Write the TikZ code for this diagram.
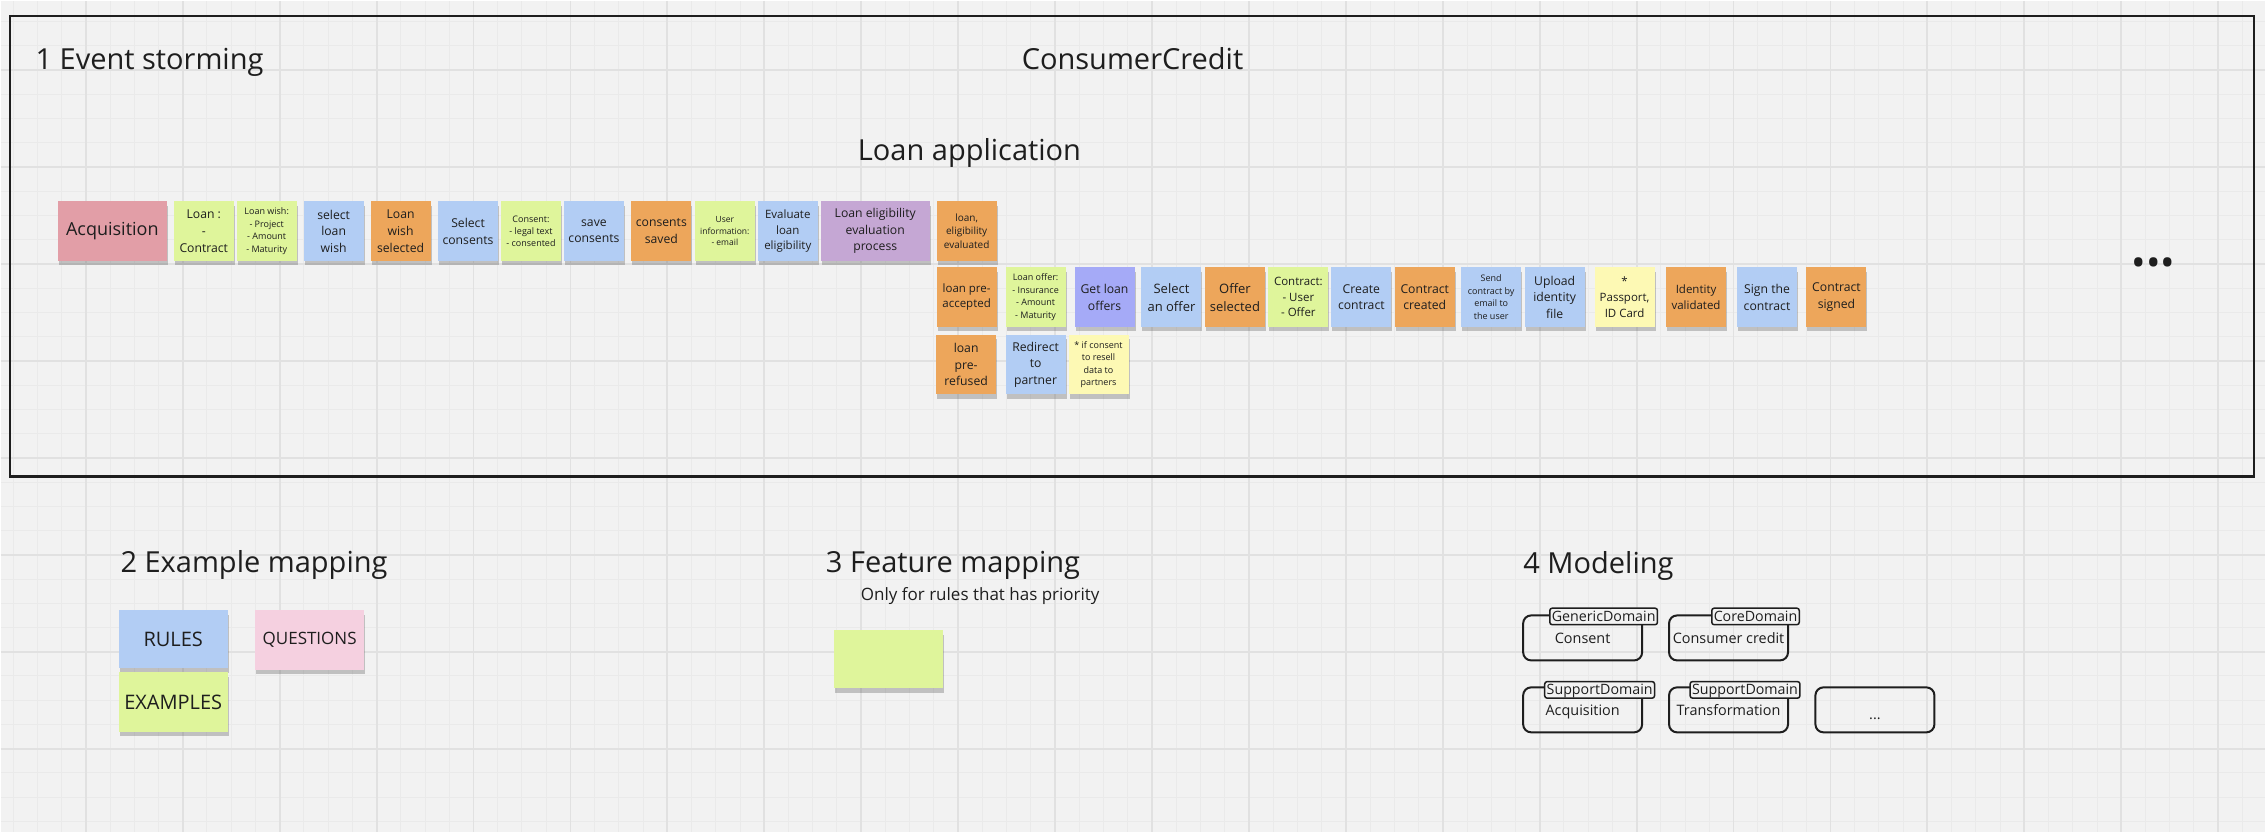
\documentclass[tikz,border=0pt]{standalone}
\usepackage{fontspec}
\setmainfont{Open Sans}
\usepackage{xcolor}
\usetikzlibrary{shadows}
\definecolor{board}{HTML}{F2F2F2}
\definecolor{minorgrid}{HTML}{EAEAEA}
\definecolor{majorgrid}{HTML}{E1E1E1}
\definecolor{ink}{HTML}{1E1E1E}
\definecolor{eventorange}{HTML}{EDA65B}
\definecolor{commandblue}{HTML}{B2CDF4}
\definecolor{datagreen}{HTML}{DFF59B}
\definecolor{policypurple}{HTML}{C5A7D4}
\definecolor{querylilac}{HTML}{A5AAF7}
\definecolor{systemred}{HTML}{E29EA7}
\definecolor{notelemon}{HTML}{FDF9B4}
\definecolor{questionpink}{HTML}{F5D0E0}

\begin{document}
\begin{tikzpicture}[
	x=0.01cm, y=-0.01cm,
	minorline/.style={draw=minorgrid, line width=0.01cm},
	majorline/.style={draw=majorgrid, line width=0.018cm},
	frameline/.style={draw=ink, line width=0.025cm},
	sticky/.style={rectangle, inner sep=0pt, minimum width=0.6cm, minimum height=0.595cm, align=center, text=ink,
		drop shadow={shadow xshift=0.01cm, shadow yshift=-0.045cm, opacity=0.28, fill=black!75}},
	widesticky/.style={minimum width=1.09cm},
	eventcard/.style={sticky, fill=eventorange},
	commandcard/.style={sticky, fill=commandblue},
	datacard/.style={sticky, fill=datagreen},
	policycard/.style={sticky, fill=policypurple},
	querycard/.style={sticky, fill=querylilac},
	systemcard/.style={sticky, fill=systemred},
	notecard/.style={sticky, fill=notelemon},
	questioncard/.style={sticky, fill=questionpink},
	hugetext/.style={font=\fontsize{5.12pt}{6.9pt}\selectfont},
	bigtext/.style={font=\fontsize{3.70pt}{5.15pt}\selectfont},
	normtext/.style={font=\fontsize{3.47pt}{4.72pt}\selectfont},
	midtext/.style={font=\fontsize{3.27pt}{4.44pt}\selectfont},
	smalltext/.style={font=\fontsize{2.85pt}{3.98pt}\selectfont},
	tinytext/.style={font=\fontsize{2.56pt}{3.53pt}\selectfont},
	minitext/.style={font=\fontsize{2.42pt}{3.30pt}\selectfont},
	rulestext/.style={font=\fontsize{5.69pt}{7.7pt}\selectfont},
	questionstext/.style={font=\fontsize{4.84pt}{6.6pt}\selectfont},
	titletext/.style={inner sep=0pt, text=ink, font=\fontsize{8.25pt}{11pt}\selectfont},
	subtitletext/.style={inner sep=0pt, text=ink, font=\fontsize{4.84pt}{6.6pt}\selectfont},
	domainbox/.style={rectangle, draw=ink, line width=0.02cm, rounded corners=0.08cm, inner sep=0pt,
		minimum width=1.19cm, minimum height=0.45cm, text=ink, text height=0.13cm, text depth=0.015cm,
		font=\fontsize{4.1pt}{5.6pt}\selectfont},
	domaintag/.style={rectangle, draw=ink, fill=board, line width=0.015cm, rounded corners=0.025cm,
		inner xsep=0.02cm, inner ysep=0pt, minimum height=0.166cm, text=ink, text height=0.122cm, text depth=0.021cm,
		font=\fontsize{4.05pt}{5.6pt}\selectfont}
	]
	
	% Board and grid
	\fill[board] (0,0) rectangle (2266,832);
	\foreach \i in {-3,...,89}
		\draw[minorline] ({85+24.25*\i},0) -- ({85+24.25*\i},832);
	\foreach \j in {-2,...,31}
		\draw[minorline] (0,{69.3+24.25*\j}) -- (2266,{69.3+24.25*\j});
	\foreach \i in {0,...,22}
		\draw[majorline] ({85+97*\i},0) -- ({85+97*\i},832);
	\foreach \j in {0,...,7}
		\draw[majorline] (0,{69.3+97*\j}) -- (2266,{69.3+97*\j});
	\useasboundingbox (0,0) rectangle (2266,832);
	
	%
	% 1 Event storming
	%
	\draw[frameline] (9,15) rectangle (2255,476);
	\node[titletext, anchor=base west] (storming_title) at (34,69) {1 Event storming};
	\node[titletext, anchor=base west] (context_title) at (1021,69) {ConsumerCredit};
	\node[titletext, anchor=base west] (process_title) at (857,160) {Loan application};
	
	% first row
	\node[systemcard, widesticky, hugetext] (acquisition) at (111.5,230.5) {Acquisition};
	\node[datacard, normtext] (loan_contract) at (203,230.5) {Loan :\\-\\Contract};
	\node[datacard, tinytext] (loan_wish_data) at (266,230.5) {Loan wish:\\- Project\\- Amount\\- Maturity};
	\node[commandcard, normtext] (select_loan_wish) at (333,230.5) {select\\loan\\wish};
	\node[eventcard, normtext] (loan_wish_selected) at (400,230.5) {Loan\\wish\\selected};
	\node[commandcard, normtext] (select_consents) at (467.5,230.5) {Select\\consents};
	\node[datacard, tinytext] (consent_data) at (530.5,230.5) {Consent:\\- legal text\\- consented};
	\node[commandcard, normtext] (save_consents) at (593.5,230.5) {save\\consents};
	\node[eventcard, normtext] (consents_saved) at (661,230.5) {consents\\saved};
	\node[datacard, minitext] (user_information) at (724.5,230.5) {User\\information:\\- email};
	\node[commandcard, midtext] (evaluate_eligibility) at (787.5,230.5) {Evaluate\\loan\\eligibility};
	\node[policycard, widesticky, normtext] (eligibility_process) at (875,230.5) {Loan eligibility\\evaluation\\process};
	\node[eventcard, smalltext] (eligibility_evaluated) at (966.5,230.5) {loan,\\eligibility\\evaluated};
	
	% second row
	\node[eventcard, midtext] (pre_accepted) at (966.5,296.5) {loan pre-\\accepted};
	\node[datacard, tinytext] (loan_offer_data) at (1035.5,296.5) {Loan offer:\\- Insurance\\- Amount\\- Maturity};
	\node[querycard, normtext] (get_loan_offers) at (1104.5,296.5) {Get loan\\offers};
	\node[commandcard, bigtext] (select_offer) at (1171.5,296.5) {Select\\an offer};
	\node[eventcard, bigtext] (offer_selected) at (1235,296.5) {Offer\\selected};
	\node[datacard, midtext] (contract_data) at (1298.5,296.5) {Contract:\\- User\\- Offer};
	\node[commandcard, normtext] (create_contract) at (1361.5,296.5) {Create\\contract};
	\node[eventcard, normtext] (contract_created) at (1425,296.5) {Contract\\created};
	\node[commandcard, tinytext] (send_contract) at (1491.5,296.5) {Send\\contract by\\email to\\the user};
	\node[commandcard, normtext] (upload_identity) at (1555,296.5) {Upload\\identity\\file};
	\node[notecard, midtext] (identity_note) at (1625,296.5) {*\\Passport,\\ID Card};
	\node[eventcard, midtext] (identity_validated) at (1696.5,296.5) {Identity\\validated};
	\node[commandcard, normtext] (sign_contract) at (1767.5,296.5) {Sign the\\contract};
	\node[eventcard, normtext] (contract_signed) at (1837,296.5) {Contract\\signed};
	\node[text=ink, font=\fontsize{11pt}{12pt}\selectfont, inner sep=0pt] (more_events) at (2154.3,266) {•••};
	
	% third row
	\node[eventcard, normtext] (pre_refused) at (966,364) {loan\\pre-\\refused};
	\node[commandcard, normtext] (redirect_partner) at (1035.5,364) {Redirect\\to\\partner};
	\node[notecard, tinytext] (resell_note) at (1098.5,364) {* if consent\\to resell\\data to\\partners};
	
	%
	% 2 Example mapping
	%
	\node[titletext, anchor=base west] (example_title) at (119,572) {2 Example mapping};
	\node[commandcard, widesticky, minimum height=0.58cm, rulestext] (rules) at (172.5,639) {RULES};
	\node[questioncard, widesticky, questionstext] (questions) at (309,639.5) {QUESTIONS};
	\node[datacard, widesticky, rulestext] (examples) at (172.5,701.5) {EXAMPLES};
	
	%
	% 3 Feature mapping
	%
	\node[titletext, anchor=base west] (feature_title) at (825,572) {3 Feature mapping};
	\node[subtitletext, anchor=base west] (feature_subtitle) at (860,600) {Only for rules that has priority};
	\node[datacard, widesticky, minimum height=0.58cm] (feature_card) at (888,659) {};
	
	%
	% 4 Modeling
	%
	\node[titletext, anchor=base west] (modeling_title) at (1523,573) {4 Modeling};
	\node[domainbox] (consent_box) at (1583,637.5) {Consent};
	\node[domaintag] (consent_tag) at (1604,616) {GenericDomain};
	\node[domainbox] (credit_box) at (1729,637.5) {Consumer credit};
	\node[domaintag] (credit_tag) at (1756,616) {CoreDomain};
	\node[domainbox] (acquisition_box) at (1583,709.5) {Acquisition};
	\node[domaintag] (acquisition_tag) at (1600,689.5) {SupportDomain};
	\node[domainbox] (transformation_box) at (1729,709.5) {Transformation};
	\node[domaintag] (transformation_tag) at (1745.5,689.5) {SupportDomain};
	\node[domainbox, text height=0.2cm, text depth=0pt] (more_box) at (1875.5,709.5) {...};
	
\end{tikzpicture}
\end{document}
